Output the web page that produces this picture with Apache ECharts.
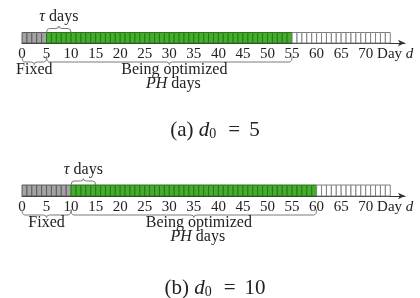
<!DOCTYPE html>
<html><head><meta charset="utf-8">
<script src="https://cdn.jsdelivr.net/npm/echarts@6/dist/echarts.min.js"></script>
<style>html,body{margin:0;padding:0;background:#fff}#c{width:420px;height:298px}</style>
</head><body><div id="c"></div>
<script>
// ---- data ----
const dayTicks = [0, 5, 10, 15, 20, 25, 30, 35, 40, 45, 50, 55, 60, 65, 70];
const panelLabels = ['(a)', '(b)'];
const d0Values = [5, 10];
const tauDays = 5;
const phDays = [50, 50];
const horizonDays = 75;
const axisMax = 78;
const labelFixed = 'Fixed';
const labelOpt = 'Being optimized';
const labelPH = '{i|PH} days';
const labelTau = '{i|τ} days';
const axisName = '{n|Day }{i|d}';

// ---- styling ----
const FONT = 'Liberation Serif';
const TXT = '#222';
const BRACE = '#7a7a7a';
const fills = ['#a3a3a3', '#45ad2e', '#ffffff'];
const strokes = ['#5c5c5c', '#2b7519', '#808080'];
const gridDefs = [
  {left: 22, right: 15, top: 32.5, height: 10.5},
  {left: 22, right: 15, top: 185, height: 11}
];
const captionY = [130, 288];

function richTok(size, italic) {
  return {fontFamily: FONT, fontSize: size, fontStyle: italic ? 'italic' : 'normal', fill: TXT, color: TXT};
}

function bracePath(x1, x2, yTip, dir, depth, r) {
  const yl = yTip + dir * depth;
  const yc = yl + dir * 2.5;
  const xm = (x1 + x2) / 2;
  return 'M' + x1 + ',' + yTip + ' Q' + x1 + ',' + yl + ' ' + (x1 + r) + ',' + yl +
    ' L' + (xm - r) + ',' + yl + ' Q' + xm + ',' + yl + ' ' + xm + ',' + yc +
    ' Q' + xm + ',' + yl + ' ' + (xm + r) + ',' + yl +
    ' L' + (x2 - r) + ',' + yl + ' Q' + x2 + ',' + yl + ' ' + x2 + ',' + yTip;
}

function renderCell(params, api) {
  const a = api.value(0), b = api.value(1), seg = api.value(2);
  const p0 = api.coord([a, 1]);
  const p1 = api.coord([b, 0]);
  return {
    type: 'rect',
    shape: {x: p0[0], y: p0[1], width: p1[0] - p0[0], height: p1[1] - p0[1]},
    style: {fill: fills[seg], stroke: strokes[seg], lineWidth: 1}
  };
}

function renderBrace(params, api) {
  const a = api.value(0), b = api.value(1), kind = api.value(2);
  const top = api.coord([a, 1])[1];
  const bot = api.coord([a, 0])[1];
  const x1 = api.coord([a, 0])[0];
  const x2 = api.coord([b, 0])[0];
  const xm = (x1 + x2) / 2;
  const children = [];
  const textStyle = (t, x, y) => ({
    type: 'text', x: x, y: y,
    style: {text: t, fontFamily: FONT, fontSize: 16, fill: TXT, align: 'center', verticalAlign: 'middle',
      rich: {i: richTok(16, true)}}
  });
  if (kind === 0) {
    children.push({type: 'path', shape: {pathData: bracePath(x1, x2, top, -1, 4, 3)},
      style: {fill: 'none', stroke: BRACE, lineWidth: 1}});
    children.push(textStyle(labelTau, xm, top - 15.5));
  } else {
    children.push({type: 'path', shape: {pathData: bracePath(x1, x2, bot + 13.5, 1, 5.5, 3)},
      style: {fill: 'none', stroke: BRACE, lineWidth: 1}});
    if (kind === 1) {
      children.push(textStyle(labelFixed, xm, bot + 27));
    } else {
      children.push(textStyle(labelOpt, xm + 5, bot + 26.5));
      children.push(textStyle(labelPH, xm + 4, bot + 41));
    }
  }
  return {type: 'group', children: children};
}

const grid = [], xAxis = [], yAxis = [], series = [], graphic = [];
d0Values.forEach((d0, i) => {
  grid.push(gridDefs[i]);
  xAxis.push({
    gridIndex: i, type: 'value', min: 0, max: axisMax,
    axisLine: {show: true, onZero: false, lineStyle: {color: '#333', width: 1},
      symbol: ['none', 'arrow'], symbolSize: [5, 7]},
    axisTick: {show: false}, splitLine: {show: false},
    axisLabel: {customValues: dayTicks, margin: 4, fontFamily: FONT, fontSize: 15, color: TXT},
    name: axisName, nameLocation: 'end', nameGap: -29,
    nameTextStyle: {fontFamily: FONT, fontSize: 15, color: TXT, align: 'left', verticalAlign: 'top',
      padding: [4, 0, 0, 0], rich: {n: richTok(15, false), i: richTok(15, true)}}
  });
  yAxis.push({gridIndex: i, type: 'value', min: 0, max: 1, show: false});
  const cells = [];
  for (let d = 0; d < horizonDays; d++) {
    const seg = d < d0 ? 0 : (d < d0 + phDays[i] ? 1 : 2);
    cells.push([d, d + 1, seg]);
  }
  series.push({type: 'custom', xAxisIndex: i, yAxisIndex: i, renderItem: renderCell,
    encode: {x: [0, 1]}, data: cells, silent: true, clip: false});
  series.push({type: 'custom', xAxisIndex: i, yAxisIndex: i, renderItem: renderBrace,
    encode: {x: [0, 1]}, clip: false, silent: true,
    data: [[d0, d0 + tauDays, 0], [0, d0, 1], [d0, d0 + phDays[i], 2]]});
  graphic.push({
    type: 'text', x: 215, y: captionY[i],
    style: {
      text: panelLabels[i] + ' {i|d}{s|0}{e|=}{n|' + d0 + '}',
      fontFamily: FONT, fontSize: 21, fill: TXT, align: 'center', verticalAlign: 'middle',
      rich: {
        i: richTok(21, true),
        s: Object.assign(richTok(14, false), {padding: [8, 3, 0, 0]}),
        e: Object.assign(richTok(21, false), {padding: [0, 9, 0, 9]}),
        n: richTok(21, false)
      }
    }
  });
});

const chart = echarts.init(document.getElementById('c'), null, {renderer: 'canvas'});
chart.setOption({animation: false, backgroundColor: '#fff', grid, xAxis, yAxis, series, graphic});
</script></body></html>
